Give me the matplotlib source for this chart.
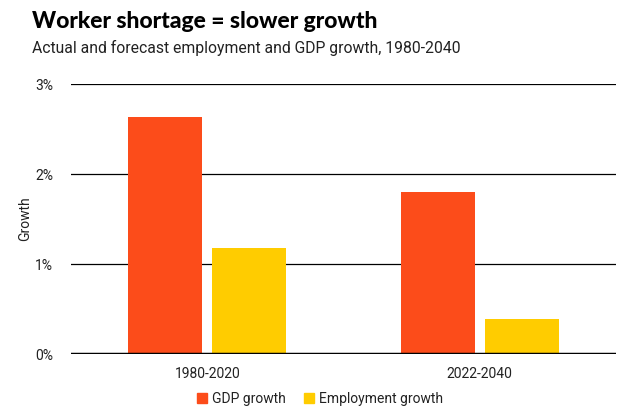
import matplotlib
matplotlib.use("Agg")
import matplotlib.pyplot as plt
from matplotlib.patches import Patch
import numpy as np

categories = ["1980-2020", "2022-2040"]
gdp_growth = [2.63, 1.80]
employment_growth = [1.18, 0.39]
series_names = ["GDP growth", "Employment growth"]
ytick_labels = ["0%", "1%", "2%", "3%"]

orange = "#FC4C1A"
yellow = "#FFCC00"
txt = "#222222"

plt.rcParams['font.family'] = ['Roboto', 'DejaVu Sans']

fig = plt.figure(figsize=(6.32, 4.2), dpi=100)
ax = fig.add_axes([71/632, 1-354/420, 545/632, 270/420])

x = np.arange(len(categories))
w = 0.271
off = 0.154
ax.bar(x - off, gdp_growth, width=w, color=orange, zorder=3)
ax.bar(x + off, employment_growth, width=w, color=yellow, zorder=3)

ax.set_xlim(-0.5, 1.5)
ax.set_ylim(0, 3)
ax.set_yticks([0, 1, 2, 3])
ax.set_yticklabels(ytick_labels)
ax.set_xticks(x)
ax.set_xticklabels(categories)
ax.tick_params(axis='both', length=0, labelsize=10, colors=txt)
ax.tick_params(axis='y', pad=13)
ax.tick_params(axis='x', pad=9)
for s in ax.spines.values():
    s.set_visible(False)
ax.grid(axis='y', color='black', linewidth=0.9, zorder=1)
ax.axhline(0, color='black', linewidth=2.5, zorder=4)
ax.set_ylabel("Growth", fontsize=10, color=txt, labelpad=2)

fig.text(32/632, 1-22/420, "Worker shortage = slower growth", fontsize=16.5,
         fontweight='black', family=['Lato', 'DejaVu Sans'], color='black', va='center')
fig.text(32/632, 1-48/420, "Actual and forecast employment and GDP growth, 1980-2040",
         fontsize=11.3, color=txt, va='center')

handles = [Patch(color=orange), Patch(color=yellow)]
fig.legend(handles, series_names, loc='center', bbox_to_anchor=(320/632, 1-399/420),
           ncol=2, frameon=False, fontsize=10, handlelength=0.7, handleheight=0.7,
           handletextpad=0.4, columnspacing=1.3, labelcolor=txt)

fig.savefig("out.png", dpi=100)
